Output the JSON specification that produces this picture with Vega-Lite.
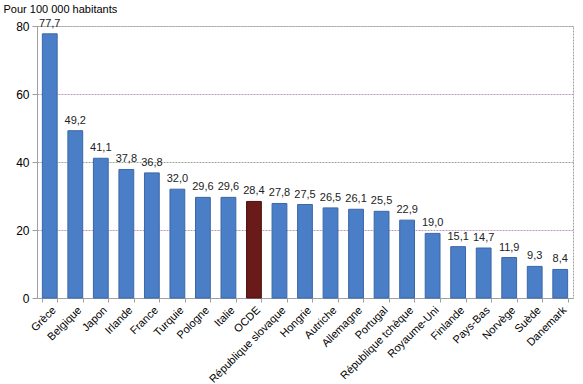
{
  "$schema": "https://vega.github.io/schema/vega-lite/v6.json",
  "autosize": "none",
  "width": 536,
  "height": 272,
  "padding": {"left": 37, "top": 26, "right": 10, "bottom": 86},
  "background": "white",
  "config": {
    "locale": {"number": {"decimal": ",", "thousands": " ", "grouping": [3], "currency": ["", " €"]}},
    "font": "Liberation Sans",
    "view": {"stroke": "#a0a0a0", "strokeWidth": 1, "strokeDash": [2, 1]}
  },
  "data": {
    "values": [
      {"pays": "Grèce", "v": 77.7, "g": "p"},
      {"pays": "Belgique", "v": 49.2, "g": "p"},
      {"pays": "Japon", "v": 41.1, "g": "p"},
      {"pays": "Irlande", "v": 37.8, "g": "p"},
      {"pays": "France", "v": 36.8, "g": "p"},
      {"pays": "Turquie", "v": 32.0, "g": "p"},
      {"pays": "Pologne", "v": 29.6, "g": "p"},
      {"pays": "Italie", "v": 29.6, "g": "p"},
      {"pays": "OCDE", "v": 28.4, "g": "o"},
      {"pays": "République slovaque", "v": 27.8, "g": "p"},
      {"pays": "Hongrie", "v": 27.5, "g": "p"},
      {"pays": "Autriche", "v": 26.5, "g": "p"},
      {"pays": "Allemagne", "v": 26.1, "g": "p"},
      {"pays": "Portugal", "v": 25.5, "g": "p"},
      {"pays": "République tchèque", "v": 22.9, "g": "p"},
      {"pays": "Royaume-Uni", "v": 19.0, "g": "p"},
      {"pays": "Finlande", "v": 15.1, "g": "p"},
      {"pays": "Pays-Bas", "v": 14.7, "g": "p"},
      {"pays": "Norvège", "v": 11.9, "g": "p"},
      {"pays": "Suède", "v": 9.3, "g": "p"},
      {"pays": "Danemark", "v": 8.4, "g": "p"}
    ]
  },
  "encoding": {
    "x": {
      "field": "pays", "type": "nominal", "sort": null,
      "scale": {"paddingInner": 0.42, "paddingOuter": 0.21},
      "axis": {
        "title": null, "labelAngle": -45, "labelFontSize": 11, "labelColor": "#000",
        "domainColor": "#a0a0a0", "tickColor": "#a0a0a0", "tickBand": "extent", "tickSize": 4,
        "labelPadding": 2
      }
    },
    "y": {
      "field": "v", "type": "quantitative",
      "scale": {"domain": [0, 80], "nice": false},
      "axis": {
        "values": [0, 20, 40, 60, 80],
        "title": "Pour 100 000 habitants", "titleAngle": 0, "titleAlign": "left",
        "titleBaseline": "bottom",
        "titleX": -34, "titleY": -12, "titleFontSize": 11, "titleFontWeight": "normal", "titleColor": "#000",
        "labelFontSize": 12, "labelColor": "#000", "labelPadding": 3,
        "domainColor": "#a0a0a0", "tickColor": "#a0a0a0", "tickSize": 5,
        "gridColor": {"condition": [{"test": "datum.value == 60 || datum.value == 20", "value": "#c094c0"}, {"test": "datum.value == 40", "value": "#98a898"}], "value": "#aaa2aa"},
        "gridDash": [2, 1]
      }
    }
  },
  "layer": [
    {
      "mark": {"type": "bar", "strokeWidth": 1},
      "encoding": {
        "color": {"field": "g", "type": "nominal", "scale": {"domain": ["p", "o"], "range": ["#4a7ec6", "#6b1a1a"]}, "legend": null},
        "stroke": {"field": "g", "type": "nominal", "scale": {"domain": ["p", "o"], "range": ["#3b67a8", "#4a1010"]}, "legend": null}
      }
    },
    {
      "mark": {"type": "text", "baseline": "bottom", "dy": -5, "fontSize": 11, "color": "#222"},
      "encoding": {"text": {"field": "v", "type": "quantitative", "format": ".1f"}}
    }
  ]
}
